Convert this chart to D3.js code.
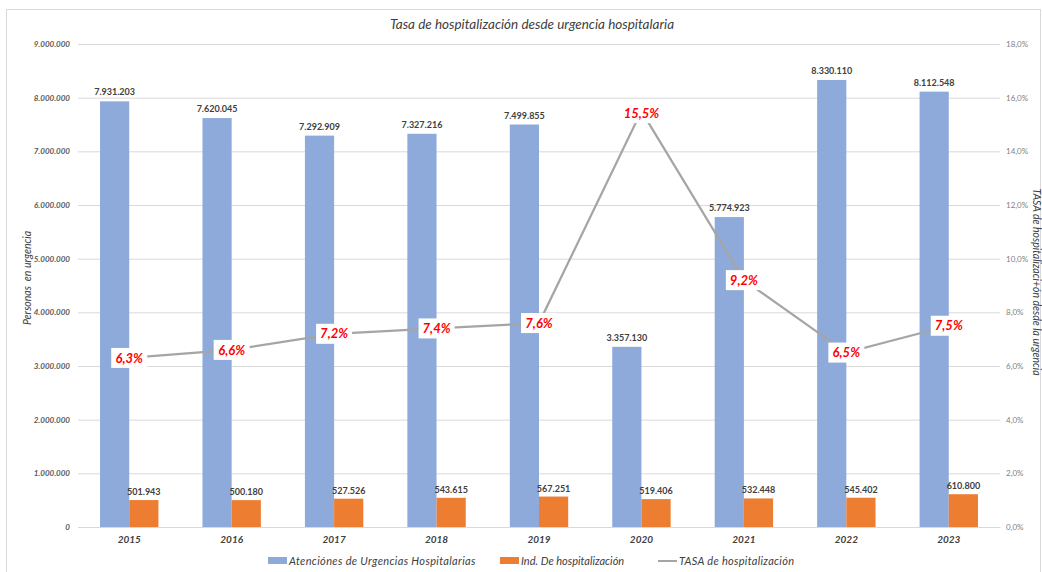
<!DOCTYPE html>
<html><head><meta charset="utf-8">
<script src="https://cdn.jsdelivr.net/npm/d3@7"></script>
<style>body{margin:0;background:#fff;font-family:"Open Sans",sans-serif}</style>
</head><body>
<svg id="c" width="1042" height="572"></svg>
<script>
const years = ["2015","2016","2017","2018","2019","2020","2021","2022","2023"];
const atenciones = [7931203,7620045,7292909,7327216,7499855,3357130,5774923,8330110,8112548];
const hospitalizacion = [501943,500180,527526,543615,567251,519406,532448,545402,610800];
const tasa = [6.3,6.6,7.2,7.4,7.6,15.5,9.2,6.5,7.5];
const leftTicks = [0,1000000,2000000,3000000,4000000,5000000,6000000,7000000,8000000,9000000];
const rightTicks = [0,2,4,6,8,10,12,14,16,18];

const FONT = "Lato, 'Open Sans', sans-serif";
const svg = d3.select("#c").attr("font-family",FONT);
const L=78,R=1000,T=44,B=527;
const fmtN = v => v===0 ? "0" : d3.format(",")(v).replace(/,/g,".");
const fmtP = v => v.toFixed(1).replace(".",",")+"%";

svg.append("rect").attr("x",6.5).attr("y",9.5).attr("width",1034).attr("height",570).attr("fill","#fff").attr("stroke","#d9d9d9");

const x = d3.scaleBand().domain(years).range([L,R]).paddingInner(0.43).paddingOuter(0.215);
const x2 = d3.scaleBand().domain(["a","b"]).range([0,x.bandwidth()]);
const y = d3.scaleLinear().domain([0,9000000]).range([B,T]);
const y2 = d3.scaleLinear().domain([0,18]).range([B,T]);

// gridlines
svg.append("g").selectAll("line").data(leftTicks).join("line")
  .attr("x1",L).attr("x2",R).attr("y1",d=>y(d)+0.5).attr("y2",d=>y(d)+0.5)
  .attr("stroke","#d9d9d9").attr("stroke-width",1);

// left axis
const la = svg.append("g").attr("transform",`translate(${L},0)`)
  .call(d3.axisLeft(y).tickValues(leftTicks).tickFormat(fmtN).tickSize(0).tickPadding(8));
la.select(".domain").remove();
la.selectAll("text").attr("font-size",8).attr("font-style","italic").attr("font-weight","bold").attr("fill","#595959").attr("font-family",FONT);

// right axis
const ra = svg.append("g").attr("transform",`translate(${R},0)`)
  .call(d3.axisRight(y2).tickValues(rightTicks).tickFormat(fmtP).tickSize(0).tickPadding(6));
ra.select(".domain").remove();
ra.selectAll("text").attr("font-size",8).attr("fill","#7f7f7f").attr("font-family",FONT);

// bottom axis
const ba = svg.append("g").attr("transform",`translate(0,${B})`)
  .call(d3.axisBottom(x).tickSize(0).tickPadding(9));
ba.select(".domain").attr("stroke","#d9d9d9");
ba.selectAll("text").attr("font-size",10).attr("font-style","italic").attr("font-weight","bold").attr("fill","#404040").attr("font-family",FONT);

// bars
const g = svg.append("g");
g.selectAll("rect.a").data(years).join("rect").attr("class","a")
  .attr("x",(d)=>x(d)+x2("a")).attr("width",x2.bandwidth())
  .attr("y",(d,i)=>y(atenciones[i])).attr("height",(d,i)=>B-y(atenciones[i]))
  .attr("fill","#8eaadb");
g.selectAll("rect.b").data(years).join("rect").attr("class","b")
  .attr("x",(d)=>x(d)+x2("b")).attr("width",x2.bandwidth())
  .attr("y",(d,i)=>y(hospitalizacion[i])).attr("height",(d,i)=>B-y(hospitalizacion[i]))
  .attr("fill","#ed7d31");

// value labels
g.selectAll("text.a").data(years).join("text").attr("class","a")
  .attr("x",d=>x(d)+x2("a")+x2.bandwidth()/2).attr("y",(d,i)=>y(atenciones[i])-6)
  .attr("text-anchor","middle").attr("font-size",9).attr("font-weight","bold").attr("fill","#404040")
  .text((d,i)=>fmtN(atenciones[i]));
g.selectAll("text.b").data(years).join("text").attr("class","b")
  .attr("x",d=>x(d)+x2("b")+x2.bandwidth()/2).attr("y",(d,i)=>y(hospitalizacion[i])-5)
  .attr("text-anchor","middle").attr("font-size",9).attr("font-weight","bold").attr("fill","#404040")
  .text((d,i)=>fmtN(hospitalizacion[i]));

// line
const cx = d=>x(d)+x.bandwidth()/2;
const line = d3.line().x((d,i)=>cx(years[i])).y(d=>y2(d));
svg.append("path").datum(tasa).attr("d",line).attr("fill","none").attr("stroke","#a5a5a5").attr("stroke-width",2.25);

// tasa labels
const tl = svg.append("g").selectAll("g").data(years).join("g")
  .attr("transform",(d,i)=>{
    const px=cx(d), py=y2(tasa[i]);
    return i===5 ? `translate(${px},${py+2})` : `translate(${px},${py})`;
  });
tl.append("rect").attr("x",-18).attr("y",-10).attr("width",36).attr("height",20).attr("fill","#fff");
tl.append("text").attr("text-anchor","middle").attr("dy","0.36em")
  .attr("font-size",13).attr("font-weight","bold").attr("font-style","italic").attr("fill","#ff0000")
  .text((d,i)=>fmtP(tasa[i]));

// title
svg.append("text").attr("x",532).attr("y",29).attr("text-anchor","middle")
  .attr("font-size",13.5).attr("font-style","italic").attr("fill","#404040")
  .text("Tasa de hospitalización desde urgencia hospitalaria");

// axis titles
svg.append("text").attr("transform","translate(31,278) rotate(-90)").attr("text-anchor","middle")
  .attr("font-size",10.5).attr("font-style","italic").attr("fill","#404040").attr("xml:space","preserve")
  .text("Personas  en urgencia");
svg.append("text").attr("transform","translate(1033,282) rotate(90)").attr("text-anchor","middle")
  .attr("font-size",10.5).attr("font-style","italic").attr("fill","#404040")
  .text("TASA de hospitalizaci+ón desde la urgencia");

// legend
const lg = svg.append("g").attr("transform","translate(0,561)");
const legendStyle = s => s.attr("dy","0.35em").attr("font-size",11).attr("font-style","italic").attr("fill","#404040");
lg.append("rect").attr("x",268).attr("y",-4).attr("width",19).attr("height",7).attr("fill","#8eaadb");
lg.append("text").attr("x",289).attr("y",0).call(legendStyle).attr("letter-spacing",0.35).text("Atenciónes de Urgencias Hospitalarias");
lg.append("rect").attr("x",500).attr("y",-4).attr("width",19).attr("height",7).attr("fill","#ed7d31");
lg.append("text").attr("x",521).attr("y",0).call(legendStyle).text("Ind. De hospitalización");
lg.append("line").attr("x1",658).attr("x2",677).attr("y1",0).attr("y2",0).attr("stroke","#a5a5a5").attr("stroke-width",2);
lg.append("text").attr("x",679).attr("y",0).call(legendStyle).attr("letter-spacing",0.3).text("TASA de hospitalización");
</script>
</body></html>
